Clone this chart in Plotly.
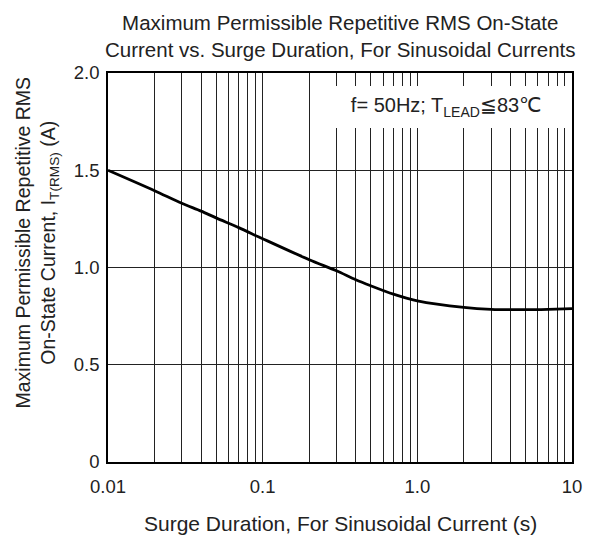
import plotly.graph_objects as go

# Data
surge_duration_s = [0.01, 0.02, 0.03, 0.04, 0.05, 0.07, 0.1, 0.2, 0.3, 0.4, 0.5,
                    0.7, 1.0, 2.0, 3.0, 5.0, 7.0, 10.0]
current_a = [1.50, 1.395, 1.33, 1.29, 1.255, 1.205, 1.148, 1.04, 0.983, 0.937, 0.906,
             0.863, 0.829, 0.795, 0.785, 0.783, 0.785, 0.789]

x_tick_vals = [0.01, 0.1, 1, 10]
x_tick_text = ["0.01", "0.1", "1.0", "10"]
x_minor_vals = [m * 10 ** e for e in (-2, -1, 0) for m in range(2, 10)]
y_tick_vals = [0, 0.5, 1.0, 1.5, 2.0]
y_tick_text = ["0", "0.5", "1.0", "1.5", "2.0"]

title_text = ("Maximum Permissible Repetitive RMS On-State<br>"
              "Current vs. Surge Duration, For Sinusoidal Currents")
x_title = "Surge Duration, For Sinusoidal Current (s)"
y_title = ("Maximum Permissible Repetitive RMS<br>"
           "On-State Current, I<sub>T(RMS)</sub> (A)")
note_text = "f= 50Hz; T<sub>LEAD</sub>≦83℃"

FONT = "Liberation Sans, Arial, sans-serif"
TXT = "#222222"
GRID = "#222222"

fig = go.Figure()
fig.add_trace(go.Scatter(
    x=surge_duration_s, y=current_a, mode="lines",
    line=dict(color="black", width=2.8, shape="spline", smoothing=0.8),
    showlegend=False, hoverinfo="skip"))

fig.update_layout(
    width=591, height=532,
    margin=dict(l=100, r=27, t=65, b=78),
    paper_bgcolor="white", plot_bgcolor="white",
    font=dict(family=FONT, color=TXT, size=18),
    showlegend=False,
)

fig.update_xaxes(
    type="log", range=[-2, 1],
    tickvals=x_tick_vals, ticktext=x_tick_text,
    showgrid=True, gridcolor=GRID, gridwidth=1.2,
    minor=dict(tickvals=x_minor_vals, showgrid=True, gridcolor=GRID,
               gridwidth=1.2, ticks=""),
    showline=True, linecolor="black", linewidth=1.5, mirror=True,
    ticks="", ticklabelstandoff=7,
    tickfont=dict(size=18.5, family=FONT, color=TXT),
    zeroline=False,
)
fig.update_yaxes(
    range=[0, 2.0],
    tickvals=y_tick_vals, ticktext=y_tick_text,
    showgrid=True, gridcolor=GRID, gridwidth=1.2,
    showline=True, linecolor="black", linewidth=1.5, mirror=True,
    ticks="", ticklabelstandoff=3,
    tickfont=dict(size=18.5, family=FONT, color=TXT),
    zeroline=False,
)

# Title
fig.add_annotation(
    text=title_text, xref="paper", yref="paper",
    x=0.50, y=1.0, yshift=64, xanchor="center", yanchor="top",
    showarrow=False, align="center",
    font=dict(size=20.5, family=FONT, color=TXT))

# X axis title
fig.add_annotation(
    text=x_title, xref="paper", yref="paper",
    x=0.5, y=0, yshift=-61, xanchor="center", yanchor="middle",
    showarrow=False, font=dict(size=21, family=FONT, color=TXT))

# Y axis title
fig.add_annotation(
    text=y_title, xref="paper", yref="paper",
    x=0, xshift=-71.5, y=0.563, xanchor="center", yanchor="middle",
    textangle=-90, showarrow=False, align="center",
    font=dict(size=19.5, family=FONT, color=TXT))

# Condition note with white box covering gridlines
fig.add_annotation(
    text=note_text, xref="paper", yref="paper",
    x=0.728, y=0.913, xanchor="center", yanchor="middle",
    width=248, height=40, bgcolor="white", borderwidth=0,
    showarrow=False, font=dict(size=20, family=FONT, color=TXT))

fig.write_html("out.html")
